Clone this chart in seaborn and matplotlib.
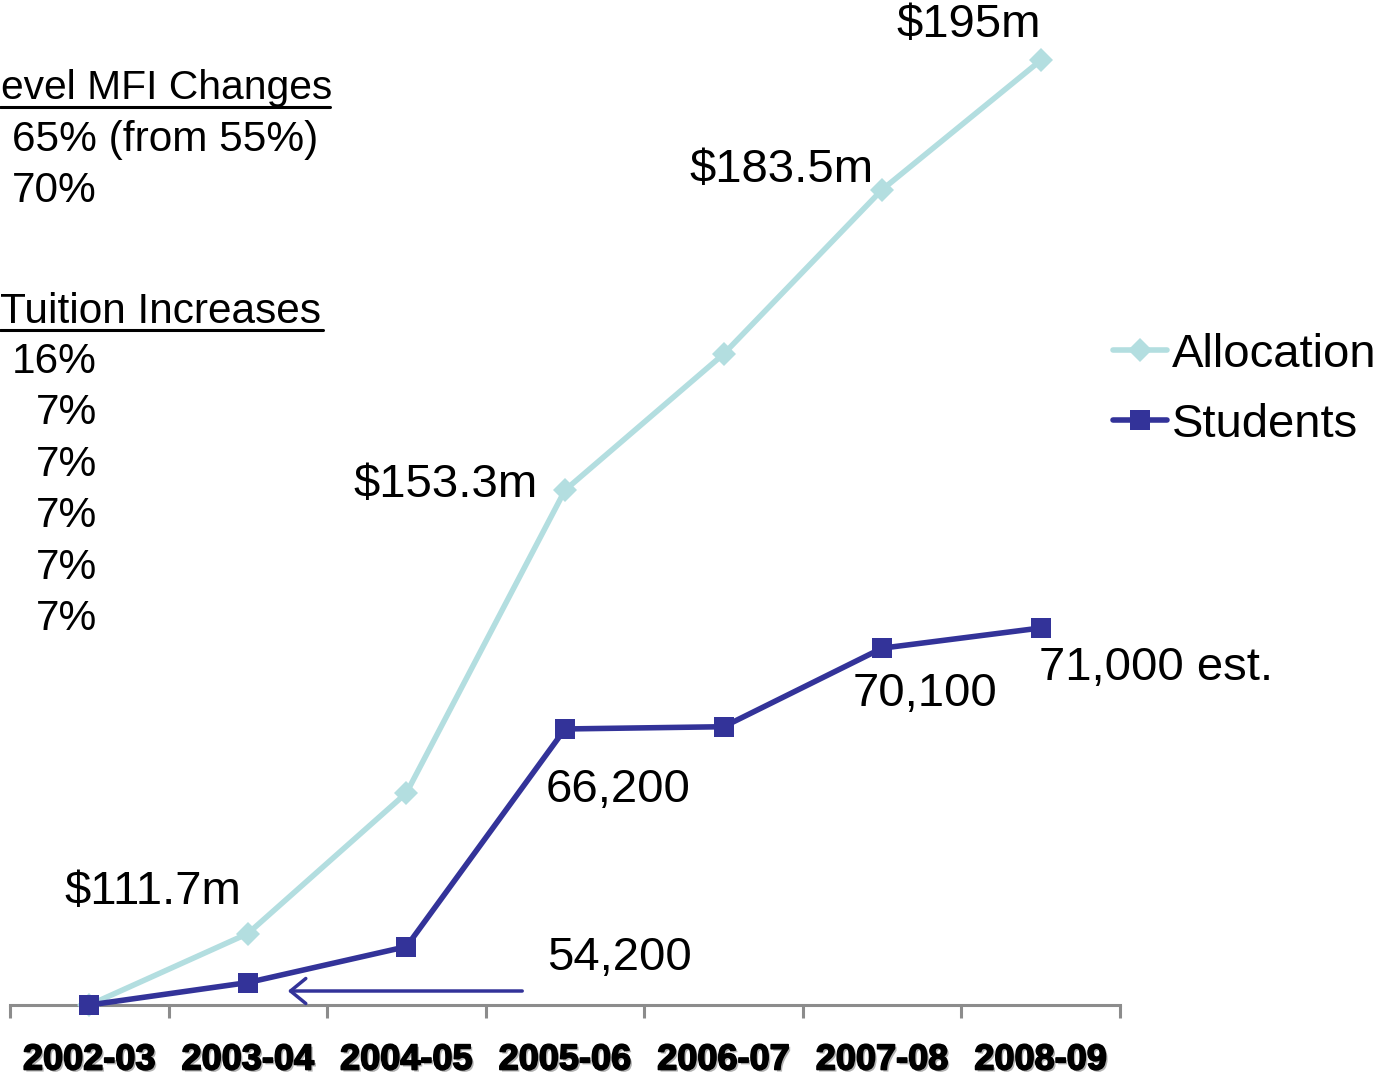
import numpy as np
import pandas as pd
import matplotlib
matplotlib.use("Agg")
import matplotlib.pyplot as plt
import matplotlib.patheffects as pe
from matplotlib.lines import Line2D
import seaborn as sns

years = ["2002-03", "2003-04", "2004-05", "2005-06", "2006-07", "2007-08", "2008-09"]
allocation = [111.7, 118.0, 130.4, 157.1, 169.1, 183.6, 195.0]
students = [54200, 55200, 56800, 66500, 66600, 70100, 71000]

alloc_labels = {0: "$111.7m", 3: "$153.3m", 5: "$183.5m", 6: "$195m"}
student_labels = {0: "54,200", 3: "66,200", 5: "70,100", 6: "71,000 est."}

mfi_lines = ["65% (from 55%)", "70%"]
tuition_lines = ["16%", "7%", "7%", "7%", "7%", "7%"]

ALLOC_C = "#B3DEE0"
STUD_C = "#333399"

sns.set_style("white")
plt.rcParams["font.family"] = ["Liberation Sans", "DejaVu Sans"]
plt.rcParams["text.color"] = "black"
plt.rcParams["xtick.color"] = "black"

df = pd.DataFrame({"year": years, "Allocation": allocation, "Students": students})

W, H = 1392, 1076
fig = plt.figure(figsize=(W / 100, H / 100), dpi=100)
ax = fig.add_axes([10 / W, 71 / H, 1110 / W, 1005 / H])
ax2 = ax.twinx()

sns.lineplot(data=df, x="year", y="Allocation", ax=ax, color=ALLOC_C, lw=4,
             marker="D", markersize=12, markeredgewidth=0, sort=False,
             label="Allocation", legend=False, clip_on=False, zorder=5)
sns.lineplot(data=df, x="year", y="Students", ax=ax2, color=STUD_C, lw=4,
             marker="s", markersize=15, markeredgewidth=0, sort=False,
             label="Students", legend=False, clip_on=False, zorder=6)

ax.set_xlim(-0.5, 6.5)
ax.set_ylim(111.7, 111.7 + 1005 / 11.34)
ax2.set_ylim(54200, 54200 + 1005 * 44.56)

for a in (ax, ax2):
    a.set_xlabel("")
    a.set_ylabel("")
    a.set_yticks([])
    for s in ("top", "left", "right"):
        a.spines[s].set_visible(False)
ax2.spines["bottom"].set_visible(False)
ax.spines["bottom"].set_color("#8c8c8c")
ax.spines["bottom"].set_linewidth(2.2)

ax.set_xticks(range(len(years)))
ax.set_xticklabels(years, fontsize=26, fontweight="bold", color="black")
ax.set_xticks(np.arange(-0.5, 7, 1), minor=True)
ax.tick_params(axis="x", which="major", bottom=True, length=0, pad=27)
ax.tick_params(axis="x", which="minor", bottom=True, length=9, width=2.2,
               color="#8c8c8c", direction="out")
for t in ax.get_xticklabels():
    t.set_path_effects([pe.withSimplePatchShadow(offset=(1.5, -1.5), shadow_rgbFace="gray", alpha=0.6),
                        pe.withStroke(linewidth=1.2, foreground="black")])

# value labels
alloc_off = {0: (64, 113), 3: (-119, 5), 5: (-101, 20), 6: (-72, 35)}
for i, txt in alloc_labels.items():
    ax.annotate(txt, xy=(i, allocation[i]), xytext=alloc_off[i], textcoords="offset pixels",
                ha="center", va="center", fontsize=34, color="black", zorder=10)
stud_off = {0: (530, 47), 3: (53, -61), 5: (43, -46), 6: (115, -40)}
for i, txt in student_labels.items():
    ax2.annotate(txt, xy=(i, students[i]), xytext=stud_off[i], textcoords="offset pixels",
                 ha="center", va="center", fontsize=34, color="black", zorder=10)

# arrow toward the students line
ax2.annotate("", xy=(285, H - 991), xycoords="figure pixels",
             xytext=(525, H - 991), textcoords="figure pixels",
             arrowprops=dict(arrowstyle="->,head_length=0.55,head_width=0.45",
                             color=STUD_C, lw=2.5, mutation_scale=20))

# legend
handles = [Line2D([], [], color=ALLOC_C, lw=4, marker="D", markersize=12, markeredgewidth=0),
           Line2D([], [], color=STUD_C, lw=4, marker="s", markersize=15, markeredgewidth=0)]
leg = fig.legend(handles, ["Allocation", "Students"], loc="center left",
                 bbox_to_anchor=(1113 / W, 1 - 390 / H), frameon=False, fontsize=34,
                 handlelength=1.15, handletextpad=0.1, labelspacing=0.55,
                 borderpad=0, borderaxespad=0)
for t in leg.get_texts():
    t.set_color("black")

# left side notes
fs = 30.5
fig.text(1 / W, 1 - 88 / H, "evel MFI Changes", fontsize=29.3, va="center", ha="left")
fig.add_artist(Line2D([0, 330 / W], [1 - 107 / H] * 2, color="black", lw=2.2))
for k, s in enumerate(mfi_lines):
    fig.text(12 / W, 1 - (140 + 51 * k) / H, s, fontsize=fs, va="center", ha="left")
fig.text(0, 1 - 312 / H, "Tuition Increases", fontsize=fs, va="center", ha="left")
fig.add_artist(Line2D([0, 323 / W], [1 - 330 / H] * 2, color="black", lw=2.2))
for k, s in enumerate(tuition_lines):
    fig.text(97 / W, 1 - (362 + 51.4 * k) / H, s, fontsize=fs, va="center", ha="right")

fig.savefig("out.png", dpi=100)
